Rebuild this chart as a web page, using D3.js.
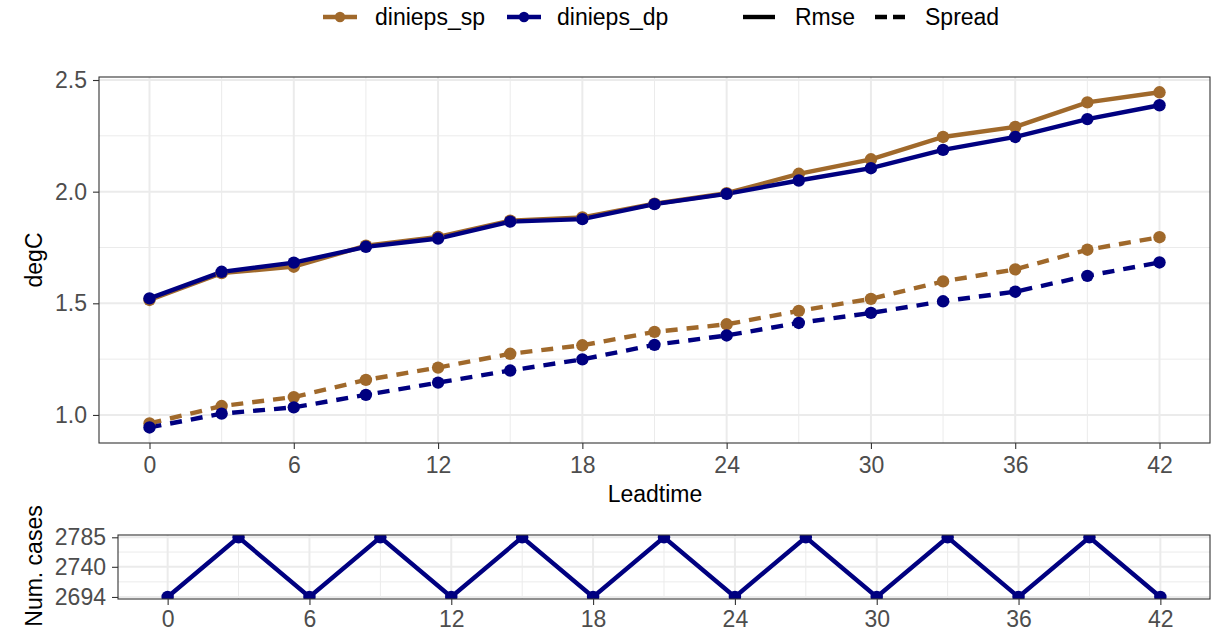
<!DOCTYPE html>
<html>
<head>
<meta charset="utf-8">
<script src="https://cdn.jsdelivr.net/npm/d3@7"></script>
<style>
  body { margin: 0; background: #fff; }
  svg { display: block; font-family: "Liberation Sans", Arial, sans-serif; }
</style>
</head>
<body>
<svg id="chart" width="1211" height="632"></svg>
<script>
// Lead times (hours)
const leadtimes = [0, 3, 6, 9, 12, 15, 18, 21, 24, 27, 30, 33, 36, 39, 42];

// Verification scores per experiment (degC)
const spRmse   = [1.515, 1.635, 1.664, 1.758, 1.797, 1.870, 1.885, 1.946, 1.993, 2.080, 2.145, 2.245, 2.290, 2.400, 2.445];
const dpRmse   = [1.522, 1.641, 1.682, 1.753, 1.790, 1.866, 1.877, 1.944, 1.990, 2.050, 2.105, 2.187, 2.245, 2.325, 2.387];
const spSpread = [0.962, 1.040, 1.080, 1.157, 1.212, 1.274, 1.312, 1.372, 1.406, 1.466, 1.520, 1.598, 1.652, 1.740, 1.796];
const dpSpread = [0.944, 1.006, 1.034, 1.090, 1.145, 1.199, 1.249, 1.314, 1.356, 1.412, 1.457, 1.509, 1.552, 1.623, 1.683];

// Number of verification cases per lead time
const numCases = [2694, 2785, 2694, 2785, 2694, 2785, 2694, 2785, 2694, 2785, 2694, 2785, 2694, 2785, 2694];

const xTicks = [0, 6, 12, 18, 24, 30, 36, 42];
const yTicks = [1.0, 1.5, 2.0, 2.5];
const yMinor = [1.25, 1.75, 2.25];
const caseTicks = [2694, 2740, 2785];

const colors = { dinieps_sp: "#A0692B", dinieps_dp: "#000080" };

const series = [
  { exp: "dinieps_sp", stat: "Rmse",   values: spRmse },
  { exp: "dinieps_sp", stat: "Spread", values: spSpread },
  { exp: "dinieps_dp", stat: "Rmse",   values: dpRmse },
  { exp: "dinieps_dp", stat: "Spread", values: dpSpread }
];

const svg = d3.select("#chart");
const LW = 4.4, R = 6.2, DASH = "12,9";
const gridCol = "#EBEBEB", tickCol = "#4D4D4D", borderCol = "#333333";
const fs = 23;

// ---------- main panel ----------
const main = { left: 99, right: 1210, top: 77, bottom: 443 };
const x = d3.scaleLinear().domain([-2.1, 44.1]).range([main.left, main.right]);
const y = d3.scaleLinear().domain([0.8744, 2.5135]).range([main.bottom, main.top]);

const gMain = svg.append("g");
// grid
const xMinorVals = d3.range(3, 42, 6);
gMain.selectAll(".ymin").data(yMinor).join("line")
  .attr("x1", main.left).attr("x2", main.right)
  .attr("y1", d => y(d)).attr("y2", d => y(d))
  .attr("stroke", gridCol).attr("stroke-width", 1);
gMain.selectAll(".xmin").data(xMinorVals).join("line")
  .attr("x1", d => x(d)).attr("x2", d => x(d))
  .attr("y1", main.top).attr("y2", main.bottom)
  .attr("stroke", gridCol).attr("stroke-width", 1);
gMain.selectAll(".ymaj").data(yTicks).join("line")
  .attr("x1", main.left).attr("x2", main.right)
  .attr("y1", d => y(d)).attr("y2", d => y(d))
  .attr("stroke", gridCol).attr("stroke-width", 2);
gMain.selectAll(".xmaj").data(xTicks).join("line")
  .attr("x1", d => x(d)).attr("x2", d => x(d))
  .attr("y1", main.top).attr("y2", main.bottom)
  .attr("stroke", gridCol).attr("stroke-width", 2);

// lines
const line = d3.line().x((d, i) => x(leadtimes[i])).y(d => y(d));
gMain.selectAll(".series").data(series).join("path")
  .attr("d", d => line(d.values))
  .attr("fill", "none")
  .attr("stroke", d => colors[d.exp])
  .attr("stroke-width", LW)
  .attr("stroke-dasharray", d => d.stat === "Spread" ? DASH : null);
// points
series.forEach(s => {
  gMain.append("g").selectAll("circle").data(s.values).join("circle")
    .attr("cx", (d, i) => x(leadtimes[i])).attr("cy", d => y(d))
    .attr("r", R).attr("fill", colors[s.exp]);
});

// border
gMain.append("rect")
  .attr("x", main.left).attr("y", main.top)
  .attr("width", main.right - main.left).attr("height", main.bottom - main.top)
  .attr("fill", "none").attr("stroke", borderCol).attr("stroke-width", 1.1);

// axes
const xAxis = d3.axisBottom(x).tickValues(xTicks).tickSize(6).tickPadding(8).tickFormat(d3.format("d"));
const yAxis = d3.axisLeft(y).tickValues(yTicks).tickSize(6).tickPadding(6).tickFormat(d3.format(".1f"));
function styleAxis(g) {
  g.select(".domain").remove();
  g.selectAll(".tick line").attr("stroke", borderCol).attr("stroke-width", 1.1);
  g.selectAll(".tick text").attr("fill", tickCol).style("font-size", fs + "px")
    .style("font-family", "'Liberation Sans', Arial, sans-serif");
}
gMain.append("g").attr("transform", `translate(0,${main.bottom})`).call(xAxis).call(styleAxis);
gMain.append("g").attr("transform", `translate(${main.left},0)`).call(yAxis).call(styleAxis);

gMain.append("text").attr("x", (main.left + main.right) / 2 + 0.5).attr("y", 502)
  .attr("text-anchor", "middle").style("font-size", fs + "px").text("Leadtime");
gMain.append("text")
  .attr("transform", `translate(42,${(main.top + main.bottom) / 2}) rotate(-90)`)
  .attr("text-anchor", "middle").style("font-size", fs + "px").text("degC");

// ---------- cases panel ----------
const sub = { left: 118, right: 1210, top: 535, bottom: 599 };
const xs = d3.scaleLinear().domain([-2.1, 44.1]).range([sub.left, sub.right]);
const ys = d3.scaleLinear().domain([2690.9, 2788.5]).range([sub.bottom, sub.top]);

const gSub = svg.append("g");
svg.append("clipPath").attr("id", "subclip").append("rect")
  .attr("x", sub.left).attr("y", sub.top)
  .attr("width", sub.right - sub.left).attr("height", sub.bottom - sub.top);

const caseMinor = [(2694 + 2740) / 2, (2740 + 2785) / 2];
gSub.selectAll(".cmin").data(caseMinor).join("line")
  .attr("x1", sub.left).attr("x2", sub.right)
  .attr("y1", d => ys(d)).attr("y2", d => ys(d))
  .attr("stroke", gridCol).attr("stroke-width", 1);
gSub.selectAll(".xsmin").data(xMinorVals).join("line")
  .attr("x1", d => xs(d)).attr("x2", d => xs(d))
  .attr("y1", sub.top).attr("y2", sub.bottom)
  .attr("stroke", gridCol).attr("stroke-width", 1);
gSub.selectAll(".cmaj").data(caseTicks).join("line")
  .attr("x1", sub.left).attr("x2", sub.right)
  .attr("y1", d => ys(d)).attr("y2", d => ys(d))
  .attr("stroke", gridCol).attr("stroke-width", 2);
gSub.selectAll(".xsmaj").data(xTicks).join("line")
  .attr("x1", d => xs(d)).attr("x2", d => xs(d))
  .attr("y1", sub.top).attr("y2", sub.bottom)
  .attr("stroke", gridCol).attr("stroke-width", 2);

const gData = gSub.append("g").attr("clip-path", "url(#subclip)");
const lineS = d3.line().x((d, i) => xs(leadtimes[i])).y(d => ys(d));
gData.append("path").attr("d", lineS(numCases))
  .attr("fill", "none").attr("stroke", colors.dinieps_dp).attr("stroke-width", LW);
gData.selectAll("circle").data(numCases).join("circle")
  .attr("cx", (d, i) => xs(leadtimes[i])).attr("cy", d => ys(d))
  .attr("r", R).attr("fill", colors.dinieps_dp);

gSub.append("rect")
  .attr("x", sub.left).attr("y", sub.top)
  .attr("width", sub.right - sub.left).attr("height", sub.bottom - sub.top)
  .attr("fill", "none").attr("stroke", borderCol).attr("stroke-width", 1.1);

// bottom labels sit right at the lower edge of the figure
const xsAxis = d3.axisBottom(xs).tickValues(xTicks).tickSize(6).tickPadding(6).tickFormat(d3.format("d"));
const ysAxis = d3.axisLeft(ys).tickValues(caseTicks).tickSize(6).tickPadding(6).tickFormat(d3.format("d"));
gSub.append("g").attr("transform", `translate(0,${sub.bottom})`).call(xsAxis).call(styleAxis);
gSub.append("g").attr("transform", `translate(${sub.left},0)`).call(ysAxis).call(styleAxis);

gSub.append("text")
  .attr("transform", `translate(42,566) rotate(-90)`)
  .attr("text-anchor", "middle").style("font-size", fs + "px").text("Num. cases");

// ---------- legend ----------
const gLeg = svg.append("g");
const ly = 17;
const expLegend = [
  { exp: "dinieps_sp", x0: 323, tx: 375 },
  { exp: "dinieps_dp", x0: 507, tx: 557 }
];
expLegend.forEach(e => {
  gLeg.append("line").attr("x1", e.x0).attr("x2", e.x0 + 34).attr("y1", ly).attr("y2", ly)
    .attr("stroke", colors[e.exp]).attr("stroke-width", LW);
  gLeg.append("circle").attr("cx", e.x0 + 17).attr("cy", ly).attr("r", 5.2).attr("fill", colors[e.exp]);
  gLeg.append("text").attr("x", e.tx).attr("y", ly).attr("dy", "0.35em")
    .style("font-size", fs + "px").text(e.exp);
});
const statLegend = [
  { stat: "Rmse", x0: 743, tx: 795 },
  { stat: "Spread", x0: 875, tx: 925 }
];
statLegend.forEach(s => {
  gLeg.append("line").attr("x1", s.x0).attr("x2", s.x0 + (s.stat === "Spread" ? 30 : 32))
    .attr("y1", ly).attr("y2", ly)
    .attr("stroke", "#000").attr("stroke-width", LW)
    .attr("stroke-dasharray", s.stat === "Spread" ? "12,6" : null);
  gLeg.append("text").attr("x", s.tx).attr("y", ly).attr("dy", "0.35em")
    .style("font-size", fs + "px").text(s.stat);
});
</script>
</body>
</html>
